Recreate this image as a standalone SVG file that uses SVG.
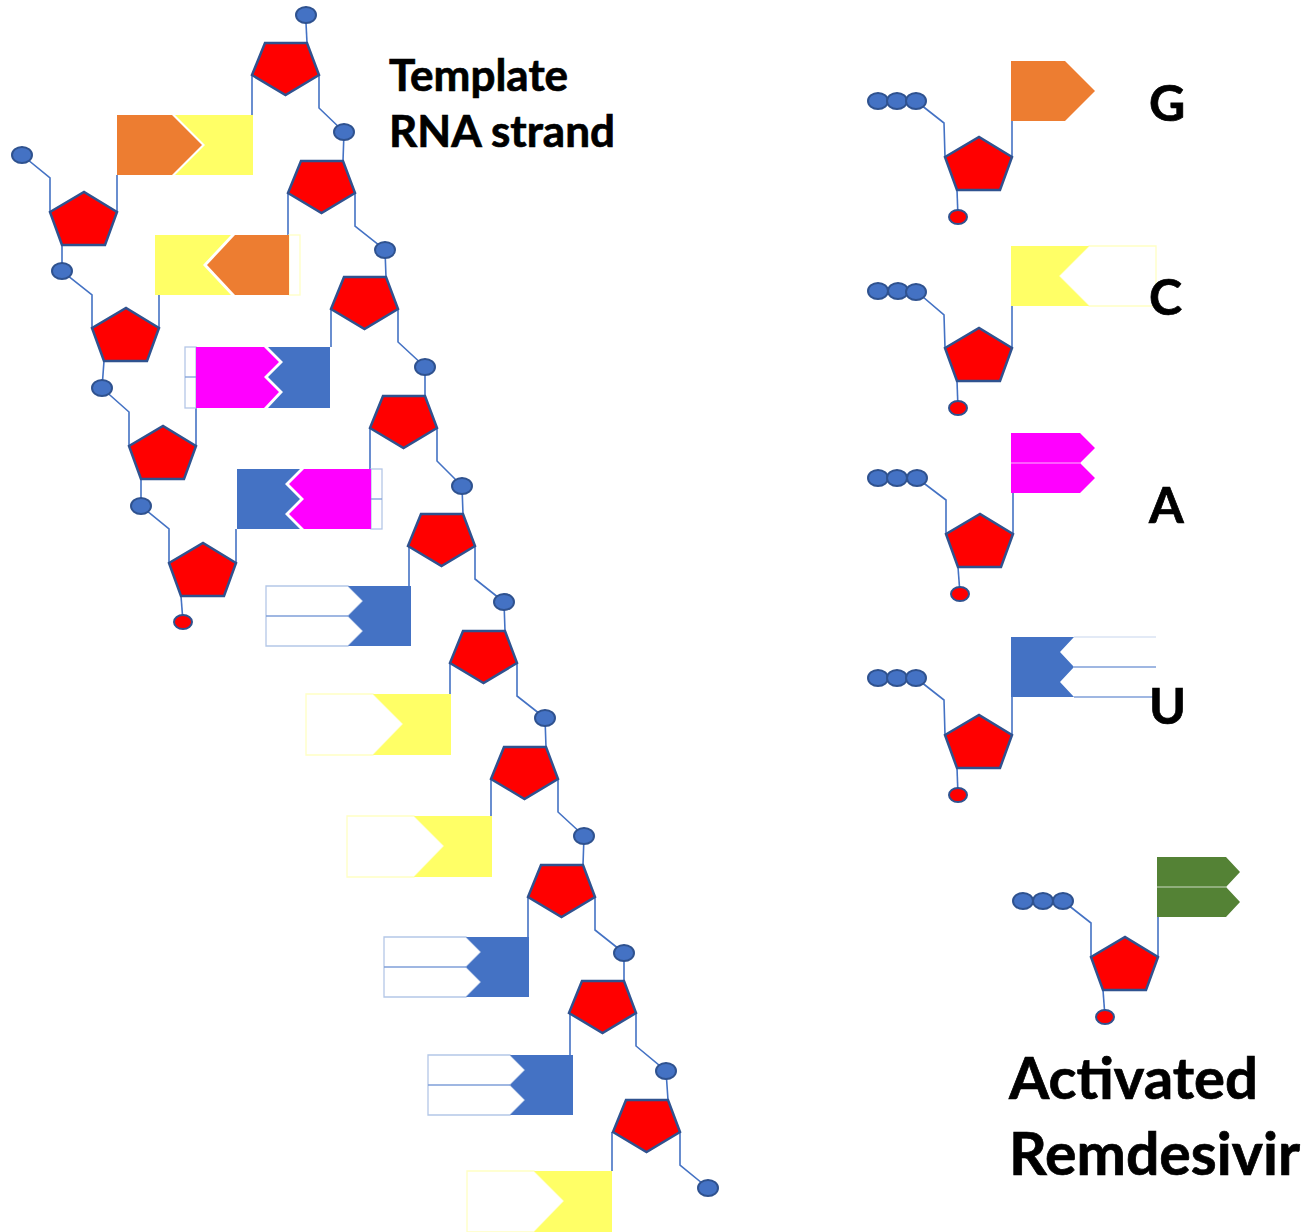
<svg xmlns="http://www.w3.org/2000/svg" xmlns:xlink="http://www.w3.org/1999/xlink" width="1315" height="1232" viewBox="0 0 1315 1232">
  <style>
    .sugar { fill: #FF0000; stroke: #2F528F; stroke-width: 2.5; stroke-linejoin: miter; }
    .phos { fill: #4472C4; stroke: #2F528F; stroke-width: 2; }
    .oh { fill: #FF0000; stroke: #2F528F; stroke-width: 2; }
    .bond { fill: none; stroke: #4472C4; stroke-width: 1.6; }
    .gua { fill: #ED7D31; }
    .cyt { fill: #FFFF66; }
    .ade { fill: #FF00FF; }
    .ura { fill: #4472C4; }
    .rdv { fill: #548235; }
    .ghostU { fill: #FFFFFF; stroke: #B4C7E7; stroke-width: 1.3; }
    .ghostC { fill: #FFFFFF; stroke: #FFFFC4; stroke-width: 1.3; }
    .ghostLine { stroke: #7F9FD8; stroke-width: 1.3; }
    .seam { stroke: #FFFFFF; stroke-width: 1.2; stroke-opacity: 0.7; }
    .label { font-family: Lato, "Liberation Sans", sans-serif; font-weight: bold; fill: #000000; stroke: #000000; stroke-width: 0.7; }
  </style>
  <defs>
    <!-- ribose rings; origin at the left corner -->
    <path id="ringDown" d="M0,0 L13,-32 L55,-32 L67,0 L33.5,20 Z"/>
    <path id="ringUp" d="M0,0 L34,-20 L67,0 L55,33 L12,33 Z"/>
  </defs>

  <!-- backbone and base bonds -->
  <g id="connectors" class="bond">
    <!-- template strand backbone -->
    <polyline points="306,23 307,43"/>
    <polyline points="319,75 319,108 344,132 343,161"/>
    <polyline points="355,193 355,226 385,250 386,277"/>
    <polyline points="398,309 398,342 425,367 425,396"/>
    <polyline points="437,428 437,461 462,486 463,514"/>
    <polyline points="475,546 475,579 504,602 505,631"/>
    <polyline points="517,663 517,696 545,718 546,747"/>
    <polyline points="558,779 558,812 584,836 583,865"/>
    <polyline points="595,897 595,930 624,953 624,981"/>
    <polyline points="636,1013 636,1046 666,1071 668,1100"/>
    <polyline points="680,1132 680,1165 708,1188"/>
    <!-- template ring to base -->
    <line x1="252" y1="75" x2="252" y2="115"/>
    <line x1="288" y1="193" x2="288" y2="235"/>
    <line x1="331" y1="309" x2="331" y2="347"/>
    <line x1="370" y1="428" x2="370" y2="469"/>
    <line x1="409" y1="546" x2="409" y2="586"/>
    <line x1="450" y1="663" x2="450" y2="694"/>
    <line x1="491" y1="779" x2="491" y2="816"/>
    <line x1="528" y1="897" x2="528" y2="937"/>
    <line x1="570" y1="1013" x2="570" y2="1055"/>
    <line x1="612" y1="1132" x2="612" y2="1171"/>
    <!-- new strand backbone -->
    <polyline points="22,155 50,178 50,212"/>
    <polyline points="62,245 62,271 92,295 92,328"/>
    <polyline points="104,361 102,388 129,412 129,446"/>
    <polyline points="141,479 141,506 169,529 169,563"/>
    <polyline points="181,596 183,622"/>
    <!-- new strand ring to base -->
    <line x1="117" y1="212" x2="117" y2="175"/>
    <line x1="159" y1="328" x2="159" y2="288"/>
    <line x1="196" y1="446" x2="196" y2="408"/>
    <line x1="236" y1="563" x2="236" y2="529"/>
    <!-- free nucleotides -->
    <polyline points="916,101 944,123 945,157"/>
    <line x1="1012" y1="157" x2="1012" y2="118"/>
    <line x1="957" y1="190" x2="958" y2="217"/>
    <polyline points="916,291 944,315 945,348"/>
    <line x1="1012" y1="348" x2="1012" y2="306"/>
    <line x1="957" y1="381" x2="958" y2="408"/>
    <polyline points="917,478 946,500 946,534"/>
    <line x1="1013" y1="534" x2="1013" y2="493"/>
    <line x1="958" y1="567" x2="960" y2="594"/>
    <polyline points="916,678 944,700 945,735"/>
    <line x1="1012" y1="735" x2="1012" y2="697"/>
    <line x1="957" y1="768" x2="958" y2="795"/>
    <polyline points="1063,901 1091,923 1091,957"/>
    <line x1="1158" y1="957" x2="1158" y2="917"/>
    <line x1="1103" y1="990" x2="1105" y2="1017"/>
  </g>

  <!-- template strand -->
  <g id="template-1">
    <ellipse class="phos" cx="306" cy="15" rx="10" ry="8"/>
    <use xlink:href="#ringDown" class="sugar" x="252" y="75"/>
    <polygon class="cyt" points="175,115 253,115 253,175 175,175 205,145"/>
  </g>
  <g id="template-2">
    <ellipse class="phos" cx="344" cy="132" rx="10" ry="8"/>
    <use xlink:href="#ringDown" class="sugar" x="288" y="193"/>
    <rect class="ghostC" x="289" y="235" width="11" height="60"/>
    <polygon class="gua" points="235,235 289,235 289,295 235,295 207,265"/>
  </g>
  <g id="template-3">
    <ellipse class="phos" cx="385" cy="250" rx="10" ry="8"/>
    <use xlink:href="#ringDown" class="sugar" x="331" y="309"/>
    <polygon class="ura" points="268,347 330,347 330,408 268,408 283,392 268,377 283,362"/>
  </g>
  <g id="template-4">
    <ellipse class="phos" cx="425" cy="367" rx="10" ry="8"/>
    <use xlink:href="#ringDown" class="sugar" x="370" y="428"/>
    <rect class="ghostU" x="371" y="469" width="11" height="60"/>
    <line class="ghostLine" x1="371" y1="499" x2="382" y2="499"/>
    <polygon class="ade" points="304,469 371,469 371,529 304,529 289,514 304,499 289,484"/>
  </g>
  <g id="template-5">
    <ellipse class="phos" cx="462" cy="486" rx="10" ry="8"/>
    <use xlink:href="#ringDown" class="sugar" x="408" y="546"/>
    <polygon class="ghostU" points="266,586 348,586 363,601 348,616 363,631 348,646 266,646"/>
    <line class="ghostLine" x1="266" y1="616" x2="348" y2="616"/>
    <polygon class="ura" points="348,586 411,586 411,646 348,646 363,631 348,616 363,601"/>
  </g>
  <g id="template-6">
    <ellipse class="phos" cx="504" cy="602" rx="10" ry="8"/>
    <use xlink:href="#ringDown" class="sugar" x="450" y="663"/>
    <polygon class="ghostC" points="306,694 373,694 403,724 373,755 306,755"/>
    <polygon class="cyt" points="373,694 451,694 451,755 373,755 403,724"/>
  </g>
  <g id="template-7">
    <ellipse class="phos" cx="545" cy="718" rx="10" ry="8"/>
    <use xlink:href="#ringDown" class="sugar" x="491" y="779"/>
    <polygon class="ghostC" points="347,816 414,816 444,846 414,877 347,877"/>
    <polygon class="cyt" points="414,816 492,816 492,877 414,877 444,846"/>
  </g>
  <g id="template-8">
    <ellipse class="phos" cx="584" cy="836" rx="10" ry="8"/>
    <use xlink:href="#ringDown" class="sugar" x="528" y="897"/>
    <polygon class="ghostU" points="384,937 466,937 481,952 466,967 481,982 466,997 384,997"/>
    <line class="ghostLine" x1="384" y1="967" x2="466" y2="967"/>
    <polygon class="ura" points="466,937 529,937 529,997 466,997 481,982 466,967 481,952"/>
  </g>
  <g id="template-9">
    <ellipse class="phos" cx="624" cy="953" rx="10" ry="8"/>
    <use xlink:href="#ringDown" class="sugar" x="569" y="1013"/>
    <polygon class="ghostU" points="428,1055 510,1055 525,1070 510,1085 525,1100 510,1115 428,1115"/>
    <line class="ghostLine" x1="428" y1="1085" x2="510" y2="1085"/>
    <polygon class="ura" points="510,1055 573,1055 573,1115 510,1115 525,1100 510,1085 525,1070"/>
  </g>
  <g id="template-10">
    <ellipse class="phos" cx="666" cy="1071" rx="10" ry="8"/>
    <use xlink:href="#ringDown" class="sugar" x="613" y="1132"/>
    <polygon class="ghostC" points="467,1171 534,1171 564,1201 534,1232 467,1232"/>
    <polygon class="cyt" points="534,1171 612,1171 612,1232 534,1232 564,1201"/>
    <ellipse class="phos" cx="708" cy="1188" rx="10" ry="8"/>
  </g>

  <!-- growing strand -->
  <g id="primer-1">
    <ellipse class="phos" cx="22" cy="155" rx="10" ry="8"/>
    <use xlink:href="#ringUp" class="sugar" x="50" y="212"/>
    <polygon class="gua" points="117,115 172,115 202,145 172,175 117,175"/>
  </g>
  <g id="primer-2">
    <ellipse class="phos" cx="62" cy="271" rx="10" ry="8"/>
    <use xlink:href="#ringUp" class="sugar" x="92" y="328"/>
    <polygon class="cyt" points="155,235 231,235 203,265 231,295 155,295"/>
  </g>
  <g id="primer-3">
    <ellipse class="phos" cx="102" cy="388" rx="10" ry="8"/>
    <use xlink:href="#ringUp" class="sugar" x="129" y="446"/>
    <rect class="ghostU" x="185" y="347" width="11" height="61"/>
    <line class="ghostLine" x1="185" y1="377" x2="196" y2="377"/>
    <polygon class="ade" points="196,347 264,347 279,362 264,377 279,392 264,408 196,408"/>
  </g>
  <g id="primer-4">
    <ellipse class="phos" cx="141" cy="506" rx="10" ry="8"/>
    <use xlink:href="#ringUp" class="sugar" x="169" y="563"/>
    <polygon class="ura" points="237,469 300,469 285,484 300,499 285,514 300,529 237,529"/>
    <ellipse class="oh" cx="183" cy="622" rx="9" ry="7"/>
  </g>

  <g id="label-template">
    <text class="label" font-size="44" x="389" y="91">Template</text>
    <text class="label" font-size="44" x="389" y="147">RNA strand</text>
  </g>

  <!-- free nucleotide triphosphates -->
  <g id="ntp-G">
    <ellipse class="phos" cx="878" cy="101" rx="10" ry="8"/>
    <ellipse class="phos" cx="897" cy="101" rx="10" ry="8"/>
    <ellipse class="phos" cx="916" cy="101" rx="10" ry="8"/>
    <use xlink:href="#ringUp" class="sugar" x="945" y="157"/>
    <ellipse class="oh" cx="958" cy="217" rx="9" ry="7"/>
    <polygon class="gua" points="1011,61 1065,61 1095,91 1065,121 1011,121"/>
    <text class="label" font-size="50" x="1149" y="121">G</text>
  </g>
  <g id="ntp-C">
    <ellipse class="phos" cx="878" cy="291" rx="10" ry="8"/>
    <ellipse class="phos" cx="898" cy="291" rx="10" ry="8"/>
    <ellipse class="phos" cx="916" cy="292" rx="10" ry="8"/>
    <use xlink:href="#ringUp" class="sugar" x="945" y="348"/>
    <ellipse class="oh" cx="958" cy="408" rx="9" ry="7"/>
    <polygon class="ghostC" points="1089,246 1156,246 1156,306 1089,306 1059,276"/>
    <polygon class="cyt" points="1011,246 1089,246 1059,276 1089,306 1011,306"/>
    <text class="label" font-size="50" x="1149" y="315">C</text>
  </g>
  <g id="ntp-A">
    <ellipse class="phos" cx="878" cy="478" rx="10" ry="8"/>
    <ellipse class="phos" cx="897" cy="478" rx="10" ry="8"/>
    <ellipse class="phos" cx="917" cy="478" rx="10" ry="8"/>
    <use xlink:href="#ringUp" class="sugar" x="946" y="534"/>
    <ellipse class="oh" cx="960" cy="594" rx="9" ry="7"/>
    <polygon class="ade" points="1011,433 1080,433 1095,448 1080,463 1095,478 1080,493 1011,493"/>
    <line class="seam" x1="1011" y1="463" x2="1080" y2="463"/>
    <text class="label" font-size="50" x="1149" y="523">A</text>
  </g>
  <g id="ntp-U">
    <ellipse class="phos" cx="878" cy="678" rx="10" ry="8"/>
    <ellipse class="phos" cx="897" cy="678" rx="10" ry="8"/>
    <ellipse class="phos" cx="916" cy="678" rx="10" ry="8"/>
    <use xlink:href="#ringUp" class="sugar" x="945" y="735"/>
    <ellipse class="oh" cx="958" cy="795" rx="9" ry="7"/>
    <line x1="1074" y1="637" x2="1156" y2="637" stroke="#DAE3F3" stroke-width="1.3"/>
    <line class="ghostLine" x1="1074" y1="667" x2="1156" y2="667"/>
    <line class="ghostLine" x1="1074" y1="697" x2="1156" y2="697"/>
    <polygon class="ura" points="1011,637 1074,637 1060,652 1074,667 1060,682 1074,697 1011,697"/>
    <text class="label" font-size="50" x="1149" y="724">U</text>
  </g>
  <g id="ntp-remdesivir">
    <ellipse class="phos" cx="1023" cy="901" rx="10" ry="8"/>
    <ellipse class="phos" cx="1043" cy="901" rx="10" ry="8"/>
    <ellipse class="phos" cx="1063" cy="901" rx="10" ry="8"/>
    <use xlink:href="#ringUp" class="sugar" x="1091" y="957"/>
    <ellipse class="oh" cx="1105" cy="1017" rx="9" ry="7"/>
    <polygon class="rdv" points="1157,857 1226,857 1240,872 1226,887 1240,902 1226,917 1157,917"/>
    <line class="seam" x1="1157" y1="887" x2="1226" y2="887"/>
    <text class="label" font-size="58" x="1009" y="1099">Activated</text>
    <text class="label" font-size="59" x="1009" y="1175">Remdesivir</text>
  </g>
</svg>
